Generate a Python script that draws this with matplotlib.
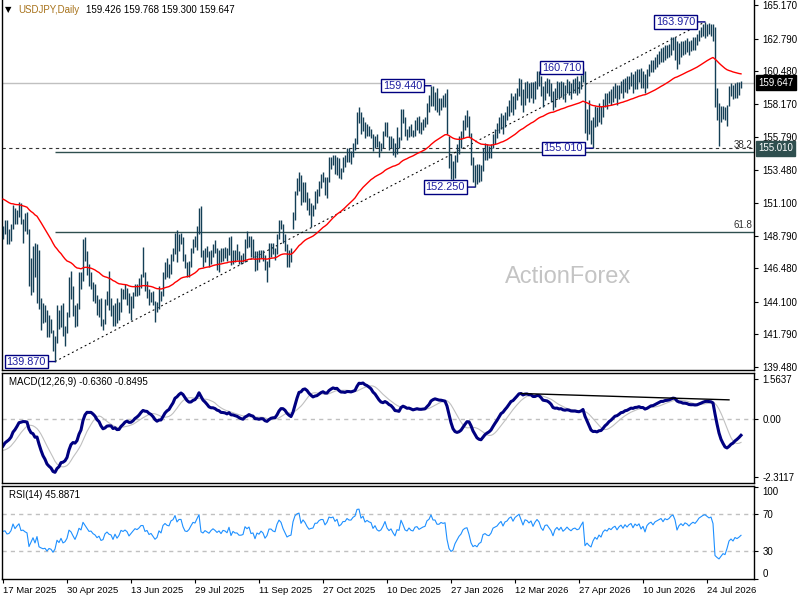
import numpy as np
import pandas as pd
import matplotlib
matplotlib.use("Agg")
import matplotlib.pyplot as plt
import matplotlib.transforms as mtransforms

plt.rcParams['font.family'] = ['Liberation Sans', 'DejaVu Sans']

# daily bars from 17 Mar 2025, one line per week
highs = [
    149.5, 149.9, 149.9, 149.3, 149.6,
    151.0, 150.8, 150.6, 151.2, 151.1,
    150.0, 150.4, 150.5, 149.3, 147.2,
    148.1, 148.3, 148.2, 147.8, 144.4,
    144.0, 143.9, 143.5, 143.2, 142.9,
    142.1, 141.7, 143.9, 143.5, 143.9,
    144.0, 142.4, 143.4, 145.9, 146.3,
    145.2, 143.9, 144.0, 146.2, 146.2,
    148.6, 148.7, 147.7, 146.8, 146.2,
    145.5, 145.4, 144.6, 144.3, 144.4,
    142.9, 144.3, 144.9, 146.3, 144.4,
    143.9, 144.0, 144.4, 144.1, 145.1,
    145.0, 145.4, 145.1, 144.7, 144.5,
    144.8, 145.4, 145.4, 145.8, 146.1,
    148.0, 146.2, 145.6, 145.0, 144.8,
    144.9, 144.2, 144.1, 145.2, 144.9,
    146.2, 146.9, 147.2, 146.8, 147.5,
    147.9, 149.0, 149.2, 148.9, 149.0,
    148.7, 147.5, 146.9, 147.0, 147.9,
    148.6, 148.8, 149.5, 150.8, 150.9,
    147.8, 147.9, 148.1, 147.7, 147.8,
    148.2, 148.5, 147.9, 147.8, 147.9,
    147.9, 148.0, 147.9, 148.7, 148.8,
    147.8, 147.8, 148.2, 147.7, 147.4,
    147.6, 148.6, 149.1, 148.8, 148.8,
    148.6, 147.7, 147.7, 147.8, 147.8,
    147.8, 147.4, 147.0, 148.3, 148.3,
    148.3, 147.9, 148.9, 149.9, 149.9,
    149.6, 148.9, 148.2, 147.8, 147.9,
    150.5, 152.0, 152.9, 153.3, 153.1,
    152.6, 152.6, 151.9, 151.5, 151.1,
    151.0, 152.0, 152.1, 152.7, 153.2,
    153.3, 153.0, 153.0, 154.4, 154.4,
    154.5, 154.5, 154.4, 154.3, 153.6,
    154.4, 154.5, 155.0, 155.0, 154.8,
    155.4, 155.7, 157.6, 157.9, 157.6,
    157.2, 156.9, 156.7, 156.6, 156.4,
    156.0, 155.9, 156.0, 155.5, 155.4,
    156.2, 156.9, 156.9, 155.9, 155.9,
    155.7, 155.4, 156.5, 155.8, 157.8,
    157.8, 157.2, 156.4, 156.6,
    156.7, 156.3, 157.0, 157.2,
    157.3, 156.9, 157.1, 157.2, 158.2,
    158.8, 159.44, 159.4, 159.0, 159.3,
    158.6, 158.6, 158.8, 158.9, 159.2,
    155.9, 154.6, 154.1, 154.5, 155.3,
    155.9, 156.2, 157.0, 157.4, 157.7,
    157.3, 156.1, 154.4, 153.8, 153.9,
    153.9, 153.8, 155.0, 155.4, 155.3,
    155.2, 155.3, 156.0, 156.4, 156.8,
    157.2, 157.5, 157.4, 157.6, 158.0,
    158.4, 158.9, 158.7, 158.9, 159.3,
    160.0, 159.9, 159.2, 159.7, 159.8,
    159.6, 159.7, 159.7, 159.8, 160.5,
    160.5, 160.1, 159.4, 159.8, 160.0,
    159.9, 159.6, 159.1, 159.3, 159.8,
    159.7, 159.8, 159.7, 159.5, 159.9,
    159.8, 159.6, 159.9, 160.0, 160.1,
    159.8, 160.2, 160.71, 160.5, 157.8,
    158.4, 157.0, 157.2, 158.0, 157.9,
    158.2, 158.0, 158.5, 158.9, 158.9,
    159.1, 159.2, 159.4, 159.6, 159.5,
    159.5, 159.8, 159.9, 160.0, 160.1,
    160.1, 160.4, 160.3, 160.5, 160.6,
    160.6, 160.7, 160.5, 160.3, 160.6,
    161.0, 161.3, 161.3, 161.5, 161.7,
    161.9, 162.1, 162.2, 162.3, 162.3,
    162.4, 162.9, 162.9, 162.9, 162.6,
    162.5, 162.6, 162.6, 162.7, 162.8,
    162.6, 162.7, 162.9, 162.9, 163.1,
    163.4, 163.6, 163.8, 163.97, 163.8,
    163.9, 163.8, 163.8, 163.6, 159.3,
    158.2, 158.0, 158.0, 157.9, 158.1,
    159.4, 159.6, 159.5, 159.6, 159.7,
    159.7, 159.768,
]
lows = [
    148.6, 148.9, 148.2, 148.2, 148.4,
    149.3, 149.6, 149.6, 150.1, 149.6,
    148.3, 149.1, 148.9, 145.2, 144.6,
    144.8, 145.9, 144.0, 143.6, 142.1,
    142.6, 142.7, 141.6, 141.6, 141.9,
    140.6, 139.87, 141.2, 142.2, 142.3,
    141.7, 141.0, 141.9, 143.0, 144.3,
    143.1, 142.3, 142.4, 143.6, 145.0,
    145.6, 147.0, 146.0, 145.2, 145.0,
    144.2, 144.0, 143.2, 143.0, 142.4,
    142.1, 142.5, 143.9, 143.5, 143.1,
    142.4, 142.4, 142.6, 142.8, 143.4,
    144.3, 144.3, 143.9, 143.3, 142.8,
    143.7, 144.5, 144.5, 144.6, 145.1,
    145.9, 144.9, 144.4, 143.9, 144.1,
    143.9, 142.7, 143.4, 143.6, 144.2,
    144.5, 145.7, 145.9, 145.8, 146.1,
    147.0, 147.5, 146.9, 147.7, 148.2,
    147.0, 146.5, 145.9, 145.9, 146.6,
    147.6, 148.0, 147.8, 148.9, 147.3,
    146.6, 146.9, 147.3, 146.6, 146.8,
    147.3, 147.6, 146.4, 146.2, 146.9,
    147.0, 147.2, 147.0, 147.4, 146.7,
    146.8, 146.9, 147.1, 146.8, 146.8,
    146.9, 146.9, 147.9, 148.0, 147.3,
    147.2, 146.3, 146.4, 146.9, 147.2,
    147.0, 146.4, 145.5, 146.6, 147.3,
    147.5, 147.1, 147.5, 148.6, 149.3,
    148.3, 147.7, 146.6, 146.6, 146.9,
    149.3, 149.9, 151.7, 152.0, 151.0,
    151.2, 151.2, 150.6, 150.3, 149.4,
    150.2, 150.7, 151.1, 151.6, 152.2,
    152.6, 151.7, 151.5, 152.6, 153.5,
    153.8, 153.2, 153.1, 152.9, 152.8,
    153.3, 153.7, 154.0, 154.0, 153.9,
    154.4, 154.9, 155.3, 156.8, 156.0,
    156.2, 155.7, 155.9, 155.9, 155.7,
    154.8, 155.0, 155.1, 154.4, 154.8,
    155.0, 155.9, 155.8, 154.9, 155.0,
    154.5, 154.4, 154.6, 155.0, 155.6,
    156.8, 155.9, 155.6, 155.8,
    155.9, 155.8, 155.9, 156.3,
    156.1, 156.0, 156.3, 156.5, 156.7,
    157.6, 158.0, 158.0, 157.7, 157.6,
    157.4, 157.7, 157.9, 157.9, 156.0,
    153.6, 152.8, 152.7, 152.9, 154.0,
    154.6, 155.0, 155.7, 156.3, 156.5,
    155.8, 153.8, 152.6, 152.25, 152.5,
    152.6, 152.7, 153.4, 154.2, 154.2,
    154.3, 154.3, 155.0, 155.3, 155.7,
    156.1, 156.4, 156.0, 156.5, 157.0,
    157.3, 157.6, 157.4, 157.8, 158.4,
    158.7, 158.1, 157.6, 158.1, 158.6,
    158.3, 158.6, 158.2, 158.5, 159.2,
    159.4, 158.7, 157.9, 158.4, 158.9,
    158.7, 158.3, 157.7, 157.9, 158.6,
    158.5, 158.7, 158.5, 158.3, 158.9,
    158.8, 158.5, 158.9, 158.9, 158.8,
    158.9, 159.2, 159.7, 156.1, 155.6,
    156.0, 155.3, 155.01, 156.5, 156.6,
    156.9, 156.7, 157.2, 157.9, 157.8,
    158.2, 158.1, 158.3, 158.6, 158.1,
    158.5, 158.9, 158.6, 159.0, 158.9,
    159.2, 159.4, 158.9, 159.2, 159.2,
    159.7, 159.3, 159.3, 158.9, 159.3,
    160.1, 160.4, 160.4, 160.6, 160.8,
    161.0, 161.1, 161.1, 161.3, 161.4,
    161.5, 161.6, 162.0, 161.3, 160.6,
    161.0, 161.5, 161.6, 161.7, 161.8,
    161.6, 161.9, 162.0, 162.0, 162.3,
    162.6, 162.9, 163.0, 162.8, 163.0,
    163.1, 163.0, 162.6, 157.9, 157.0,
    155.2, 156.9, 157.1, 157.0, 156.6,
    158.0, 158.7, 158.5, 158.6, 158.6,
    158.8, 159.300,
]
closes = [
    149.2, 149.3, 148.7, 148.8, 149.3,
    150.7, 149.9, 150.5, 151.0, 149.8,
    149.9, 149.6, 149.4, 146.1, 146.9,
    147.8, 146.3, 147.7, 144.0, 143.5,
    143.1, 143.2, 142.0, 142.5, 142.2,
    140.9, 141.5, 143.4, 142.6, 143.6,
    142.0, 142.3, 143.1, 145.4, 144.9,
    143.7, 142.5, 143.8, 145.9, 145.4,
    148.4, 147.5, 146.6, 145.6, 145.7,
    144.9, 144.5, 143.6, 144.0, 142.6,
    142.8, 144.3, 144.8, 144.2, 144.0,
    142.7, 144.0, 142.8, 143.5, 144.9,
    144.6, 145.0, 144.6, 143.5, 144.1,
    144.7, 145.3, 145.1, 145.5, 146.1,
    146.1, 145.0, 145.2, 144.4, 144.6,
    144.0, 143.4, 143.7, 144.9, 144.5,
    146.1, 146.6, 146.3, 146.2, 147.4,
    147.7, 148.9, 147.9, 148.6, 148.6,
    147.4, 146.6, 146.5, 146.9, 147.7,
    148.5, 148.4, 149.5, 150.7, 147.4,
    147.1, 147.7, 147.4, 147.1, 147.7,
    148.1, 147.8, 147.4, 147.7, 147.2,
    147.8, 147.7, 147.4, 148.4, 146.9,
    147.7, 147.4, 147.4, 147.0, 147.0,
    147.1, 148.4, 148.1, 148.4, 147.4,
    147.5, 146.5, 147.4, 147.2, 147.7,
    147.4, 146.5, 146.9, 148.0, 148.0,
    147.7, 147.6, 148.9, 149.8, 149.5,
    148.6, 147.9, 147.1, 147.3, 147.4,
    150.1, 152.0, 152.7, 153.0, 151.2,
    152.3, 151.8, 151.0, 150.4, 150.6,
    150.7, 151.9, 151.9, 152.6, 152.9,
    152.9, 152.1, 152.7, 154.1, 154.0,
    154.2, 153.6, 154.1, 153.1, 153.4,
    154.1, 154.1, 154.8, 154.6, 154.6,
    155.2, 155.5, 157.4, 157.5, 156.4,
    156.9, 156.1, 156.5, 156.3, 156.2,
    155.4, 155.9, 155.3, 155.1, 155.3,
    155.9, 156.8, 155.9, 155.5, 155.8,
    155.2, 154.7, 155.7, 155.6, 157.7,
    157.0, 156.1, 155.9, 156.5,
    156.1, 156.0, 156.7, 156.8,
    156.4, 156.6, 156.8, 156.9, 157.9,
    158.2, 159.2, 158.6, 158.6, 158.1,
    158.1, 158.4, 158.3, 158.4, 156.2,
    154.1, 153.2, 153.4, 154.3, 154.9,
    155.5, 155.9, 156.7, 157.0, 157.1,
    156.0, 154.1, 153.0, 153.2, 152.8,
    153.3, 153.5, 154.8, 155.0, 154.7,
    154.6, 155.0, 155.9, 156.1, 156.3,
    156.8, 157.2, 156.6, 157.4, 157.6,
    158.2, 158.5, 158.0, 158.8, 159.2,
    159.6, 159.0, 158.3, 159.4, 159.3,
    159.0, 159.4, 158.7, 159.5, 160.1,
    159.8, 159.0, 158.6, 159.5, 159.6,
    159.2, 158.8, 158.0, 159.0, 159.4,
    159.0, 159.5, 158.9, 159.2, 159.6,
    159.3, 159.1, 159.4, 159.5, 159.3,
    159.4, 159.9, 160.4, 156.5, 156.9,
    156.3, 155.9, 156.8, 157.4, 157.0,
    157.7, 157.3, 158.2, 158.6, 158.4,
    158.9, 158.7, 159.1, 159.3, 158.8,
    159.3, 159.6, 159.2, 159.8, 159.5,
    159.9, 160.1, 159.6, 160.2, 160.0,
    160.3, 159.7, 160.1, 159.4, 160.4,
    160.8, 161.0, 160.7, 161.2, 161.4,
    161.6, 161.8, 161.5, 162.0, 161.9,
    162.1, 162.5, 162.7, 162.3, 161.3,
    161.9, 162.2, 162.0, 162.4, 162.3,
    162.1, 162.4, 162.6, 162.5, 162.8,
    163.2, 163.4, 163.6, 163.7, 163.6,
    163.5, 163.6, 163.2, 158.3, 157.6,
    157.0, 157.3, 157.6, 157.3, 158.0,
    159.0, 159.3, 158.9, 159.4, 159.2,
    159.4, 159.647,
]
last_open = 159.426

# closes before the first visible bar, only used to start the indicators
warmup_closes = [
    154.5, 155.5, 155.2, 154.3, 155.2, 154.6, 154.3, 152.6, 151.5, 151.4,
    152.0, 152.5, 154.4, 152.9, 152.3, 151.6, 151.9, 151.5, 149.6, 149.2,
    149.7, 149.0, 149.1, 149.8, 150.6, 149.4, 149.8, 149.0, 148.0, 148.0,
    147.3, 147.8, 148.3, 147.8, 148.6,
]

price_ticks = [165.170, 162.790, 160.480, 158.170, 155.790, 153.480,
               151.100, 148.790, 146.480, 144.100, 141.790, 139.480]
macd_ticks = [1.5637, 0.0, -2.3117]
rsi_ticks = [100, 70, 30, 0]
date_ticks = ['2025-03-17', '2025-04-30', '2025-06-13', '2025-07-29',
              '2025-09-11', '2025-10-27', '2025-12-10', '2026-01-27',
              '2026-03-12', '2026-04-27', '2026-06-10', '2026-07-24']
holidays = ['2025-12-25', '2026-01-01']

# swing points marked on the chart: (bar index, 'high'/'low')
pivots = [(26, 'low'), (214, 'high'), (236, 'low'), (290, 'high'), (295, 'low'), (351, 'high')]
fib_ratios = [0.382, 0.618]

n = len(closes)
x = np.arange(n)
dates = pd.bdate_range('2025-03-17', periods=n, freq='C', holidays=holidays)

# indicators
s = pd.Series(warmup_closes + closes)
w = len(warmup_closes)
ema55 = s.ewm(span=55, adjust=False).mean().values[w:]
macd_all = s.ewm(span=12, adjust=False).mean() - s.ewm(span=26, adjust=False).mean()
signal = macd_all.rolling(9).mean().values[w:]
macd = macd_all.values[w:]
d = s.diff()
up = d.clip(lower=0).ewm(alpha=1 / 14, adjust=False).mean()
dn = (-d.clip(upper=0)).ewm(alpha=1 / 14, adjust=False).mean()
rsi = (100 - 100 / (1 + up / dn)).values[w:]

W, H = 800, 600
def frame(top, bottom, left=2, right=754):
    return [left / W, 1 - bottom / H, (right - left) / W, (bottom - top) / H]

fig = plt.figure(figsize=(8, 6), dpi=100)
ax = fig.add_axes(frame(0, 370))
axm = fig.add_axes(frame(372.7, 482.7))
axr = fig.add_axes(frame(486, 579))

for a in (ax, axm, axr):
    a.set_xlim(-0.5, 375.5)
    a.yaxis.tick_right()
    a.tick_params(axis='y', direction='out', length=3, width=0.8, labelsize=7, pad=3)
    a.tick_params(axis='x', bottom=False, labelbottom=False)
    for sp in a.spines.values():
        sp.set_color('black')
        sp.set_linewidth(1)
ax.spines['top'].set_visible(False)

bar_color = '#143f56'

# ---- main price panel
ax.set_ylim(139.27, 165.525)
ax.set_yticks(price_ticks)
ax.set_yticklabels([f'{v:.3f}' for v in price_ticks])

last = closes[-1]
ax.axhline(last, color='#c0c0c0', lw=1, zorder=1)
support = lows[295]
ax.axhline(support, color='#333333', lw=0.8, ls=(0, (3, 3)), zorder=1)

lo_i, hi_i = 26, 351
lo, hi = lows[lo_i], highs[hi_i]
for r in fib_ratios:
    lvl = hi - r * (hi - lo)
    ax.hlines(lvl, lo_i, 375.5, color='#2f4f4f', lw=1, zorder=1)
    ax.text(374.5, lvl + 0.15, f'{r * 100:.1f}', ha='right', va='bottom',
            fontsize=7, color='#303030')

ax.plot([lo_i, hi_i], [lo, hi], color='black', lw=0.75, ls=(0, (1.8, 2.8)), zorder=2)

ax.vlines(x, lows, highs, color=bar_color, lw=1.0, zorder=3)
ax.plot(x, ema55, color='red', lw=1, zorder=4)

for (i, kind), gap in zip(pivots, [9, 9, 10, 2, 10, 10]):
    p = lows[i] if kind == 'low' else highs[i]
    ax.annotate(f'{p:.3f}', xy=(i, p), xytext=(-gap, 0), textcoords='offset pixels',
                ha='right', va='center', fontsize=7.8, color='#1c1ca0',
                bbox=dict(boxstyle='square,pad=0.15', fc='white', ec='#000080', lw=1),
                arrowprops=dict(arrowstyle='-', color='#000080', lw=1, shrinkA=0, shrinkB=0),
                zorder=6)

tr = mtransforms.blended_transform_factory(ax.transAxes, ax.transData)
ax.text(1.0 + 4 / 752, last, f'{last:.3f}', transform=tr, ha='left', va='center',
        fontsize=7, color='white', zorder=7, clip_on=False,
        bbox=dict(boxstyle='square,pad=0.25', fc='black', ec='black'))
ax.text(1.0 + 4 / 752, support, f'{support:.3f}', transform=tr, ha='left', va='center',
        fontsize=7, color='white', zorder=7, clip_on=False,
        bbox=dict(boxstyle='square,pad=0.25', fc='#2f4f4f', ec='#2f4f4f'))

fig.text(568 / W, 1 - 277 / H, 'ActionForex', ha='center', va='center',
         fontsize=17, color='#c4c4c4')

fig.text(5 / W, 1 - 10 / H, '\u25bc', ha='left', va='center', fontsize=6, color='black',
         family=['DejaVu Sans'])
fig.text(18 / W, 1 - 10 / H, 'USDJPY,Daily', ha='left', va='center', fontsize=7,
         color='#a8731c')
fig.text(86 / W, 1 - 10 / H,
         f'{last_open:.3f} {highs[-1]:.3f} {lows[-1]:.3f} {closes[-1]:.3f}',
         ha='left', va='center', fontsize=7, color='black')

# ---- MACD panel
axm.set_ylim(-2.537, 1.813)
axm.set_yticks(macd_ticks)
axm.set_yticklabels(['1.5637', '0.00', '-2.3117'])
axm.axhline(0, color='#c0c0c0', lw=1, ls=(0, (3, 3)))
axm.plot(x, signal, color='#c0c0c0', lw=0.8)
axm.plot(x, macd, color='#000080', lw=2.2)
p1 = 240 + int(np.argmax(macd[240:275]))
p2 = 330 + int(np.argmax(macd[330:360]))
slope = (macd[p2] - macd[p1]) / (p2 - p1)
axm.plot([p1, 363], [macd[p1], macd[p1] + slope * (363 - p1)], color='black', lw=1)
axm.text(7 / 752, 1 - 9 / 110, 'MACD(12,26,9) -0.6360 -0.8495', transform=axm.transAxes,
         ha='left', va='center', fontsize=7, color='black')

# ---- RSI panel
axr.set_ylim(-0.5, 100.8)
axr.set_yticks(rsi_ticks)
axr.set_yticklabels([str(v) for v in rsi_ticks])
labs = axr.get_yticklabels()
labs[0].set_va('top')
labs[-1].set_va('bottom')
for lv in (70, 30):
    axr.axhline(lv, color='#c0c0c0', lw=1, ls=(0, (3, 3)))
axr.plot(x, rsi, color='#1e90ff', lw=0.8)
axr.text(7 / 752, 1 - 9 / 93, 'RSI(14) 45.8871', transform=axr.transAxes,
         ha='left', va='center', fontsize=7, color='black')

tick_pos = dates.get_indexer(pd.to_datetime(date_ticks))
axr.set_xticks(tick_pos)
axr.set_xticklabels([f"{dates[p].day} {dates[p].strftime('%b %Y')}" for p in tick_pos],
                    ha='left')
axr.tick_params(axis='x', bottom=True, labelbottom=True, direction='out', length=3,
                width=0.8, labelsize=6.8, pad=2)

fig.savefig('out.png', dpi=100, facecolor='white')
